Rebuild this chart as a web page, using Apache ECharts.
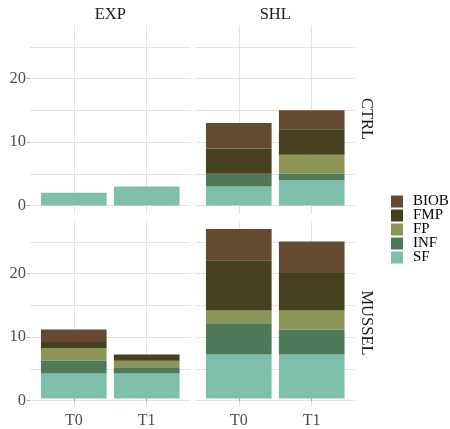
<!DOCTYPE html>
<html>
<head>
<meta charset="utf-8">
<script src="https://cdn.jsdelivr.net/npm/echarts@6/dist/echarts.min.js"></script>
<style>
  html, body { margin: 0; padding: 0; background: #ffffff; }
  #chart { width: 450px; height: 429px; }
</style>
</head>
<body>
<div id="chart"></div>
<script>
// Sampling periods on the x axis
const periods = ['T0', 'T1'];
// Facet columns (site) and rows (treatment)
const sites = ['EXP', 'SHL'];
const treatments = ['CTRL', 'MUSSEL'];
// Feeding groups, bottom of the stack first
const groups = ['SF', 'INF', 'FP', 'FMP', 'BIOB'];
// Legend order (top to bottom)
const legendOrder = ['BIOB', 'FMP', 'FP', 'INF', 'SF'];
// Y tick labels
const yTicks = [0, 10, 20];

// Counts per group; panels in order EXP·CTRL, SHL·CTRL, EXP·MUSSEL, SHL·MUSSEL, each [T0, T1]
const SF   = [[2, 3], [3, 4], [4, 4], [7, 7]];
const INF  = [[0, 0], [2, 1], [2, 1], [5, 4]];
const FP   = [[0, 0], [0, 3], [2, 1], [2, 3]];
const FMP  = [[0, 0], [4, 4], [1, 1], [8, 6]];
const BIOB = [[0, 0], [4, 3], [2, 0], [5, 5]];

const groupValues = { SF, INF, FP, FMP, BIOB };
const groupColors = {
  SF: '#7dbfaa',
  INF: '#4e7a59',
  FP: '#8b9556',
  FMP: '#45401e',
  BIOB: '#634a30'
};

const FONT = 'Liberation Serif';
const GRID_COLOR = '#e4e4e4';
const TICK_COLOR = '#a8a8a8';
const LABEL_COLOR = '#4d4d4d';

// Shared y range for all facets, ggplot-style 5% expansion around the data
let dataMax = 0;
for (let p = 0; p < 4; p++) {
  for (let t = 0; t < periods.length; t++) {
    let total = 0;
    groups.forEach(g => { total += groupValues[g][p][t]; });
    dataMax = Math.max(dataMax, total);
  }
}
const pad = dataMax * 0.05;
const yMin = -pad, yMax = dataMax + pad;

// Panel geometry
const colLeft = [30, 195];
const panelW = 160.5;
const rowTop = [25.5, 220.5];
const panelH = 188.6;
const unit = panelH / (yMax - yMin);
const innerInset = panelW * 0.1 / 2.2;   // discrete axis: 0.6 band expansion vs 0.5 band

const grid = [], xAxis = [], yAxis = [], series = [], graphic = [];

// Outer grids: horizontal guide lines and y labels
for (let p = 0; p < 4; p++) {
  const col = p % 2, row = Math.floor(p / 2);
  const zeroY = rowTop[row] + yMax * unit;
  grid.push({
    left: colLeft[col], width: panelW,
    top: zeroY - 25 * unit, height: 25 * unit,
    containLabel: false
  });
  xAxis.push({ type: 'value', gridIndex: p, min: 0, max: 1, show: false });
}
// y labels and ticks (left column only)
for (let p = 0; p < 4; p++) {
  const col = p % 2;
  yAxis.push({
    type: 'value', gridIndex: p, min: 0, max: 25, interval: 5, position: 'left',
    axisLine: { show: false },
    axisTick: {
      show: col === 0, length: 3, customValues: yTicks,
      lineStyle: { color: TICK_COLOR, width: 1 }
    },
    axisLabel: {
      show: col === 0, customValues: yTicks, margin: 4,
      color: LABEL_COLOR, fontFamily: FONT, fontSize: 16.5
    },
    splitLine: { show: false }
  });
}
// horizontal guide lines every 5
for (let p = 0; p < 4; p++) {
  yAxis.push({
    type: 'value', gridIndex: p, min: 0, max: 25, interval: 5, position: 'right',
    axisLine: { show: false }, axisTick: { show: false }, axisLabel: { show: false },
    splitLine: { show: true, lineStyle: { color: GRID_COLOR, width: 1 } }
  });
}

// Inner grids: bars, category axis and vertical guide lines
for (let p = 0; p < 4; p++) {
  const col = p % 2, row = Math.floor(p / 2);
  grid.push({
    left: colLeft[col] + innerInset, width: panelW - 2 * innerInset,
    top: rowTop[row], height: panelH,
    containLabel: false
  });
  xAxis.push({
    type: 'category', gridIndex: 4 + p, data: periods,
    axisLine: { show: false },
    axisTick: { show: row === 1, alignWithLabel: true, length: 3, lineStyle: { color: TICK_COLOR } },
    axisLabel: { show: row === 1, margin: 6, color: LABEL_COLOR, fontFamily: FONT, fontSize: 16 },
    splitLine: { show: true, alignWithLabel: true, lineStyle: { color: GRID_COLOR, width: 1 } }
  });
  yAxis.push({
    type: 'value', gridIndex: 4 + p, min: yMin, max: yMax, show: false,
    splitLine: { show: false }
  });
  groups.forEach(g => {
    series.push({
      type: 'bar', name: g,
      xAxisIndex: 4 + p, yAxisIndex: 8 + p,
      stack: 'panel' + p,
      barWidth: '90%',
      data: groupValues[g][p],
      itemStyle: { color: groupColors[g] },
      emphasis: { disabled: true },
      animation: false
    });
  });
}

// Facet strip labels
sites.forEach((s, c) => {
  graphic.push({
    type: 'text',
    x: colLeft[c] + panelW / 2, y: 14.5,
    style: {
      text: s, fill: '#1a1a1a', font: '16.5px "' + FONT + '"',
      textAlign: 'center', textVerticalAlign: 'middle'
    }
  });
});
const stripCenterY = [119, 323];
treatments.forEach((t, r) => {
  graphic.push({
    type: 'text',
    x: 366, y: stripCenterY[r],
    rotation: -Math.PI / 2,
    style: {
      text: t, fill: '#1a1a1a', font: '16.5px "' + FONT + '"',
      textAlign: 'center', textVerticalAlign: 'middle'
    }
  });
});

const chart = echarts.init(document.getElementById('chart'), null, { renderer: 'canvas' });
chart.setOption({
  backgroundColor: '#ffffff',
  animation: false,
  grid, xAxis, yAxis, series, graphic,
  legend: {
    data: legendOrder,
    orient: 'vertical',
    left: 391, top: 194,
    padding: 0,
    itemWidth: 12, itemHeight: 12, itemGap: -1,
    icon: 'rect',
    selectedMode: false,
    textStyle: {
      fontFamily: FONT, fontSize: 15, color: '#000000',
      lineHeight: 12, padding: [0, 0, 0, 5]
    }
  }
});
</script>
</body>
</html>
